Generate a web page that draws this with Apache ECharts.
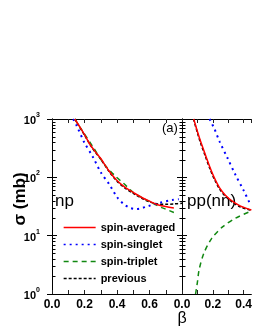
<!DOCTYPE html>
<html><head><meta charset="utf-8">
<script src="https://cdn.jsdelivr.net/npm/echarts@6/dist/echarts.min.js"></script>
<style>html,body{margin:0;padding:0;background:#fff}#c{width:255px;height:330px}</style>
</head><body><div id="c"></div>
<script>
// ---- data (beta, sigma in mb) ----
const seriesNames = ['spin-averaged', 'spin-singlet', 'spin-triplet', 'previous'];
// np panel
const npAvgX  = [0.14, 0.17, 0.20, 0.23, 0.26, 0.30, 0.35, 0.40, 0.45, 0.50, 0.55, 0.60, 0.65, 0.70, 0.75];
const npAvgY  = [1000, 740, 540, 380, 290, 210, 130, 88, 67, 55, 45.5, 39, 34, 31.5, 29.7];
const npSingX = [0.13, 0.15, 0.20, 0.25, 0.30, 0.355, 0.40, 0.44, 0.48, 0.52, 0.55, 0.59, 0.66, 0.74, 0.78];
const npSingY = [1000, 790, 390, 228, 122, 74, 46, 35, 30, 28.7, 29.5, 32, 36.5, 41, 42];
const npTripX = [0.14, 0.19, 0.25, 0.32, 0.39, 0.44, 0.50, 0.56, 0.62, 0.68, 0.75];
const npTripY = [1000, 605, 340, 170, 105, 79, 55, 44, 36, 30, 25];
const npPrevX = [0.14, 0.20, 0.25, 0.30, 0.35, 0.40, 0.45, 0.50, 0.55, 0.60, 0.65, 0.70, 0.75, 0.80];
const npPrevY = [1000, 530, 310, 205, 127, 86, 65, 53, 44, 38, 35, 34.5, 35, 36];
// pp(nn) panel
const ppAvgX  = [0.076, 0.10, 0.121, 0.15, 0.183, 0.21, 0.244, 0.28, 0.326, 0.38, 0.43, 0.45];
const ppAvgY  = [1000, 610, 410, 250, 145, 98, 66, 50, 39, 32, 28.7, 27.5];
const ppSingX = [0.179, 0.21, 0.244, 0.296, 0.347, 0.398, 0.44, 0.45];
const ppSingY = [1000, 680, 410, 212, 110, 61, 36, 33];
const ppTripX = [0.088, 0.10, 0.111, 0.142, 0.193, 0.265, 0.347, 0.44, 0.45];
const ppTripY = [1.0, 1.6, 2.6, 5.0, 9.0, 14.3, 19.9, 25.8, 26.3];
const ppPrevX = [0.075, 0.10, 0.121, 0.15, 0.183, 0.21, 0.244, 0.28, 0.326, 0.38, 0.43, 0.45];
const ppPrevY = [1000, 580, 385, 235, 136, 93, 63, 48, 37.5, 31, 28, 27.5];
// axis ticks
const xTickLabelsShown = ['0.0', '0.2', '0.4', '0.6'];
const yMinorTicks = [2,3,4,5,6,7,8,9,20,30,40,50,60,70,80,90,200,300,400,500,600,700,800,900];

const zip = (xs, ys) => xs.map((x, i) => [x, ys[i]]);
const FONT = "'Liberation Sans', Arial, sans-serif";
const styles = [
  {color: '#ff0000', width: 1.5, type: 'solid'},
  {color: '#0000ff', width: 2, type: [2, 4]},
  {color: '#118811', width: 1.5, type: [5, 4]},
  {color: '#000000', width: 1.5, type: [3, 2]}
];
const npData = [zip(npAvgX, npAvgY), zip(npSingX, npSingY), zip(npTripX, npTripY), zip(npPrevX, npPrevY)];
const ppData = [zip(ppAvgX, ppAvgY), zip(ppSingX, ppSingY), zip(ppTripX, ppTripY), zip(ppPrevX, ppPrevY)];

function lineSeries(name, idx, data, axisIdx) {
  return {
    type: 'line', name: name, data: data, xAxisIndex: axisIdx, yAxisIndex: axisIdx,
    symbol: 'circle', showSymbol: false, smooth: 0.3, clip: true, z: 4 - idx,
    lineStyle: {color: styles[idx].color, width: styles[idx].width, type: styles[idx].type},
    itemStyle: {color: styles[idx].color}
  };
}
function tickSeries(axisIdx, xVal, dir) {
  return {
    type: 'custom', xAxisIndex: axisIdx, yAxisIndex: axisIdx, silent: true, clip: false,
    data: yMinorTicks.map(v => [xVal, v]),
    renderItem: (params, api) => {
      const p = api.coord([api.value(0), api.value(1)]);
      const x = Math.round(p[0]) + 0.5, y = Math.round(p[1]) + 0.5;
      return {type: 'line', shape: {x1: x, y1: y, x2: x + dir * 3, y2: y},
              style: {stroke: '#000', lineWidth: 1}};
    }
  };
}
const xLabelFmt = v => {
  const s = v.toFixed(1);
  return (Math.abs(v * 10 - Math.round(v * 10)) < 1e-6 && xTickLabelsShown.includes(s)) ? s : '';
};
const axisLine = {show: true, lineStyle: {color: '#000', width: 1}};
function xAx(grid, max, pos, labels) {
  return {
    type: 'value', gridIndex: grid, min: 0, max: max, interval: 0.1, position: pos,
    axisLine: axisLine,
    axisTick: {show: true, inside: true, length: 4, lineStyle: {color: '#222'}},
    axisLabel: {show: labels, formatter: xLabelFmt, fontFamily: FONT, fontWeight: 'bold',
                fontSize: 12, color: '#000', margin: 5, showMaxLabel: false},
    splitLine: {show: false}
  };
}
function yAx(grid, pos, labels) {
  return {
    type: 'log', logBase: 10, gridIndex: grid, min: 1, max: 1000, position: pos,
    axisLine: axisLine,
    axisTick: {show: true, inside: true, length: 5, lineStyle: {color: '#000'}},
    axisLabel: {show: labels, margin: 12, fontFamily: FONT, color: '#000',
      formatter: v => '{b|10}{s|' + Math.round(Math.log10(v)) + '}',
      rich: {b: {fontSize: 11, fontWeight: 'bold', fontFamily: FONT, color: '#000', lineHeight: 15, verticalAlign: 'bottom'},
             s: {fontSize: 7, fontWeight: 'bold', fontFamily: FONT, color: '#000', lineHeight: 15, verticalAlign: 'top'}}},
    splitLine: {show: false}
  };
}

const series = [];
seriesNames.forEach((n, i) => series.push(lineSeries(n, i, npData[i], 0)));
seriesNames.forEach((n, i) => series.push(lineSeries(n, i, ppData[i], 2)));
series.push(tickSeries(0, 0, 1));
series.push(tickSeries(1, 0.8, -1));
series.push(tickSeries(2, 0, 1));

const chart = echarts.init(document.getElementById('c'), null, {renderer: 'canvas'});
chart.setOption({
  animation: false,
  backgroundColor: '#fff',
  grid: [
    {left: 52, top: 119, width: 130, height: 175},
    {left: 52, top: 119, width: 130, height: 175},
    {left: 182, top: 119, width: 73.125, height: 175}
  ],
  xAxis: [
    xAx(0, 0.8, 'bottom', true),
    xAx(1, 0.8, 'top', false),
    xAx(2, 0.45, 'bottom', true),
    xAx(2, 0.45, 'top', false)
  ],
  yAxis: [
    yAx(0, 'left', true),
    yAx(1, 'right', false),
    yAx(2, 'left', false),
    yAx(2, 'right', false)
  ],
  legend: {
    data: seriesNames, orient: 'vertical', left: 63, top: 222, padding: 0,
    itemWidth: 32, itemHeight: 11, itemGap: 6,
    itemStyle: {opacity: 0},
    lineStyle: {width: 1.3},
    textStyle: {fontFamily: FONT, fontWeight: 'bold', fontSize: 11, color: '#000'},
    selectedMode: false
  },
  graphic: [
    {type: 'text', x: 20, y: 199, rotation: Math.PI / 2,
     style: {text: 'σ (mb)', font: "bold 17px " + FONT, fill: '#000', textAlign: 'center', textVerticalAlign: 'middle'}},
    {type: 'text', x: 182, y: 319,
     style: {text: 'β', font: "16px " + FONT, fill: '#000', textAlign: 'center', textVerticalAlign: 'middle'}},
    {type: 'text', x: 55, y: 201,
     style: {text: 'np', font: "17px " + FONT, fill: '#000', textAlign: 'left', textVerticalAlign: 'middle'}},
    {type: 'text', x: 187, y: 201,
     style: {text: 'pp(nn)', font: "17px " + FONT, fill: '#000', textAlign: 'left', textVerticalAlign: 'middle'}},
    {type: 'text', x: 162, y: 128,
     style: {text: '(a)', font: "13px " + FONT, fill: '#000', textAlign: 'left', textVerticalAlign: 'middle'}}
  ],
  series: series
});
</script></body></html>
